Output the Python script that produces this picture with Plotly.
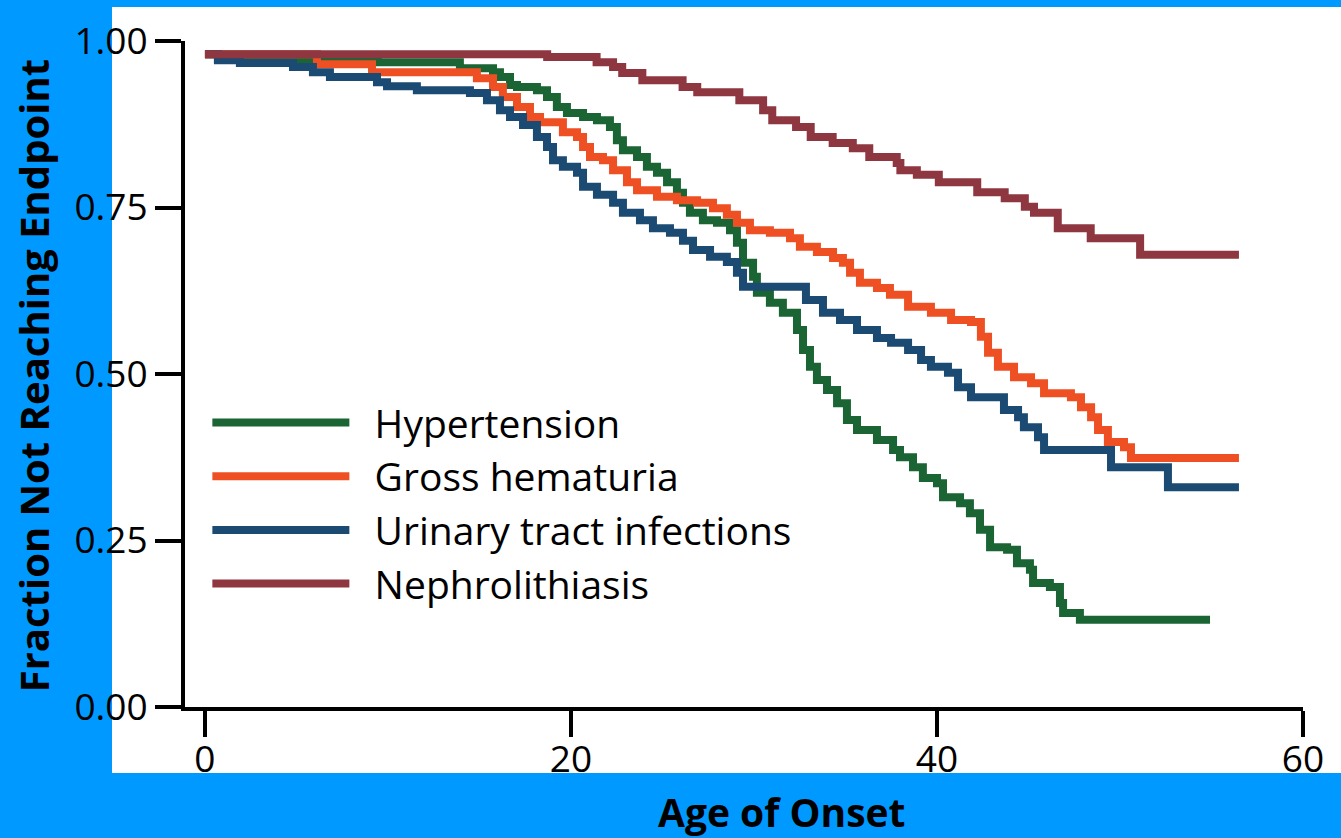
import plotly.graph_objects as go

# ---- data ----
neph_age = [0, 18.7, 21.4, 22.3, 22.8, 23.9, 26.1, 26.9, 29.2, 30.5, 31.0, 32.3, 33.1, 34.3,
            35.4, 36.3, 37.8, 38.0, 38.9, 40.1, 42.2, 43.7, 44.8, 45.3, 46.6, 48.4, 51.1, 56.5]
neph_val = [0.98, 0.976, 0.968, 0.961, 0.952, 0.941, 0.931, 0.923, 0.911, 0.896, 0.881, 0.871,
            0.856, 0.847, 0.839, 0.826, 0.817, 0.806, 0.799, 0.788, 0.773, 0.764, 0.751, 0.742,
            0.719, 0.704, 0.679, 0.679]

hyp_age = [0, 0.71, 9.45, 13.93, 15.74, 16.12, 16.67, 17.05, 18.14, 18.69, 19.23, 19.78, 20.66,
           21.42, 22.13, 22.51, 22.84, 23.61, 24.15, 24.70, 25.25, 25.79, 26.12, 26.50, 27.21,
           27.98, 28.69, 29.07, 29.40, 29.95, 30.16, 30.87, 31.58, 32.35, 32.68, 33.06, 33.44,
           33.99, 34.54, 35.08, 35.63, 36.72, 37.60, 37.98, 38.69, 39.23, 40.0, 40.33, 41.26,
           41.80, 42.35, 42.90, 43.83, 44.37, 45.08, 45.25, 46.17, 46.72, 46.89, 47.81, 54.92]
hyp_val = [0.98, 0.973, 0.968, 0.959, 0.953, 0.946, 0.934, 0.931, 0.926, 0.916, 0.901, 0.892,
           0.886, 0.881, 0.871, 0.851, 0.836, 0.826, 0.811, 0.802, 0.788, 0.772, 0.757, 0.742,
           0.731, 0.727, 0.716, 0.697, 0.667, 0.646, 0.622, 0.607, 0.592, 0.566, 0.536, 0.511,
           0.491, 0.476, 0.456, 0.431, 0.416, 0.401, 0.386, 0.375, 0.360, 0.344, 0.336, 0.315,
           0.306, 0.291, 0.266, 0.240, 0.236, 0.216, 0.206, 0.186, 0.180, 0.156, 0.141, 0.131,
           0.131]

hem_age = [0, 6.12, 9.13, 14.86, 15.74, 16.28, 17.05, 17.76, 18.31, 19.56, 20.33, 20.66, 21.04,
           21.75, 22.30, 23.06, 23.61, 24.70, 25.79, 26.89, 27.76, 28.52, 29.07, 29.78, 30.87,
           31.97, 32.51, 33.44, 34.32, 34.86, 35.25, 35.79, 36.72, 37.43, 38.42, 39.67, 40.77,
           41.86, 42.40, 42.79, 43.33, 44.21, 45.14, 45.85, 47.32, 47.87, 48.42, 48.80, 49.34,
           50.22, 50.60, 56.50]
hem_val = [0.98, 0.965, 0.953, 0.944, 0.931, 0.916, 0.901, 0.886, 0.878, 0.863, 0.856, 0.841,
           0.826, 0.821, 0.806, 0.788, 0.776, 0.766, 0.761, 0.757, 0.749, 0.739, 0.727, 0.716,
           0.712, 0.704, 0.691, 0.683, 0.674, 0.667, 0.652, 0.637, 0.629, 0.619, 0.601, 0.592,
           0.581, 0.578, 0.556, 0.532, 0.511, 0.495, 0.486, 0.471, 0.465, 0.450, 0.435, 0.416,
           0.398, 0.390, 0.374, 0.374]

uti_age = [0, 0.71, 1.91, 4.81, 5.90, 6.83, 9.40, 9.95, 11.58, 14.48, 15.41, 16.12, 16.67, 17.38,
           18.14, 18.69, 19.02, 19.56, 20.33, 20.66, 21.42, 22.30, 22.84, 23.77, 24.48, 25.41,
           26.12, 26.67, 27.60, 28.52, 29.07, 29.40, 32.84, 33.77, 34.70, 35.63, 36.72, 37.49,
           38.42, 39.13, 39.67, 40.60, 41.15, 41.86, 43.66, 44.43, 44.75, 45.52, 45.85, 49.51,
           52.62, 56.50]
uti_val = [0.98, 0.971, 0.967, 0.961, 0.953, 0.946, 0.938, 0.932, 0.926, 0.922, 0.911, 0.896,
           0.886, 0.874, 0.856, 0.841, 0.821, 0.811, 0.802, 0.781, 0.769, 0.757, 0.742, 0.731,
           0.719, 0.712, 0.700, 0.686, 0.676, 0.668, 0.652, 0.631, 0.611, 0.592, 0.581, 0.566,
           0.554, 0.547, 0.536, 0.521, 0.511, 0.502, 0.480, 0.465, 0.446, 0.435, 0.420, 0.405,
           0.386, 0.360, 0.330, 0.330]

series_names = ["Hypertension", "Gross hematuria", "Urinary tract infections", "Nephrolithiasis"]
series_colors = ["#1B6535", "#EF5023", "#1B4B73", "#8E3740"]

x_ticks = [0, 20, 40, 60]
y_ticks = [0.0, 0.25, 0.5, 0.75, 1.0]
y_ticktext = ["0.00", "0.25", "0.50", "0.75", "1.00"]

FONT = "Open Sans"
NBSP = "\u00a0"

fig = go.Figure()
series = [(hyp_age, hyp_val), (hem_age, hem_val), (uti_age, uti_val), (neph_age, neph_val)]
for (xs, ys), name, col in zip(series, series_names, series_colors):
    fig.add_trace(go.Scatter(x=xs, y=ys, mode="lines", name=NBSP * 2 + name,
                             line=dict(color=col, width=8, shape="hv")))

fig.update_layout(
    width=1341, height=838,
    margin=dict(l=185, r=38, t=41, b=131),
    paper_bgcolor="#0099FF",
    plot_bgcolor="white",
    font=dict(family=FONT, color="black"),
    showlegend=True,
    legend=dict(x=0.02, y=0.475, xanchor="left", yanchor="top",
                bgcolor="rgba(0,0,0,0)", font=dict(size=39, family=FONT, color="black"),
                itemwidth=137, tracegroupgap=0),
    shapes=[dict(type="rect", xref="paper", yref="paper", x0=-0.0653, x1=1.04,
                 y0=-0.099, y1=1.051, fillcolor="white", line=dict(width=0), layer="below")],
    annotations=[
        dict(text="<b>Age of Onset</b>", xref="paper", yref="paper", x=0.534, y=-0.157,
             xanchor="center", yanchor="middle", showarrow=False,
             font=dict(size=39, family=FONT, color="black")),
        dict(text="<b>Fraction Not Reaching Endpoint</b>", xref="paper", yref="paper",
             x=-0.136, y=0.498, xanchor="center", yanchor="middle", textangle=-90,
             showarrow=False, font=dict(size=40, family=FONT, color="black")),
    ],
)
fig.update_xaxes(range=[-1.09, 60], tickvals=x_ticks, showgrid=False, zeroline=False,
                 showline=True, linewidth=4, linecolor="black", ticks="outside",
                 ticklen=26, tickwidth=4, tickcolor="black", ticklabelstandoff=-9,
                 tickfont=dict(size=37, family=FONT, color="black"))
fig.update_yaxes(range=[0, 1], tickvals=y_ticks, ticktext=y_ticktext, showgrid=False,
                 zeroline=False, showline=True, linewidth=4, linecolor="black",
                 ticks="outside", ticklen=26, tickwidth=4, tickcolor="black",
                 tickfont=dict(size=37, family=FONT, color="black"))

fig.write_html("out.html", config={"displayModeBar": False},
               post_script="document.body.style.margin='0';")
